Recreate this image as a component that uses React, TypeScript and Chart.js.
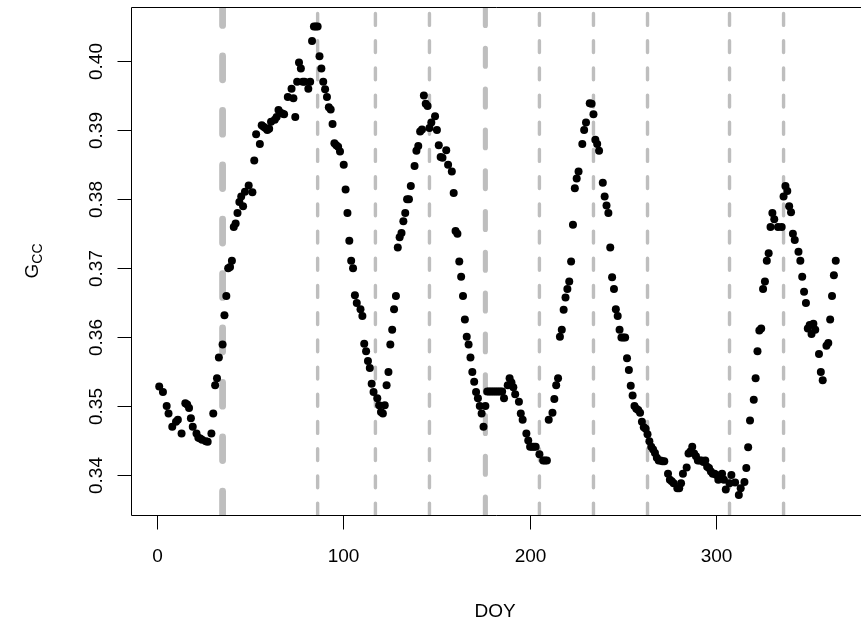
import { useEffect, useRef } from "react";
import { Chart, registerables } from "chart.js";

Chart.register(...registerables);

// Day of year of each observation
const doy = [
  1, 3, 5, 6, 8, 10, 11, 13, 15, 16, 17, 18, 19, 21, 22, 23, 24, 26, 27, 29,
  30, 31, 32, 33, 35, 36, 37, 38, 39, 40, 41, 42, 43, 44, 45, 46, 47, 49, 51, 52,
  53, 55, 56, 57, 58, 59, 60, 61, 63, 64, 65, 66, 67, 68, 70, 72, 73, 74, 75, 76,
  77, 78, 79, 81, 82, 83, 84, 85, 86, 87, 88, 89, 90, 91, 92, 93, 94, 95, 96, 97,
  98, 100, 101, 102, 103, 104, 105, 106, 107, 109, 110, 111, 112, 113, 114, 115, 116, 118, 119, 120,
  121, 122, 123, 124, 125, 126, 127, 128, 129, 130, 131, 132, 133, 134, 135, 136, 138, 139, 140, 141,
  142, 143, 144, 145, 146, 147, 149, 150, 151, 152, 153, 155, 156, 158, 159, 160, 161, 162, 163, 164,
  165, 166, 167, 168, 169, 170, 171, 172, 173, 174, 175, 176, 177, 178, 179, 180, 181, 182, 183, 184,
  185, 186, 188, 189, 190, 191, 192, 194, 195, 196, 198, 199, 200, 201, 202, 203, 205, 207, 208, 209,
  210, 212, 213, 214, 215, 216, 217, 218, 219, 220, 221, 222, 223, 224, 225, 226, 228, 229, 230, 232,
  233, 234, 235, 236, 237, 239, 240, 241, 242, 243, 244, 245, 246, 247, 248, 249, 250, 251, 252, 253,
  254, 255, 256, 257, 258, 259, 260, 261, 262, 263, 264, 265, 266, 267, 268, 269, 270, 271, 272, 274,
  275, 276, 277, 279, 280, 281, 282, 284, 285, 286, 287, 288, 289, 290, 291, 292, 293, 294, 295, 296,
  297, 298, 299, 300, 301, 303, 304, 305, 307, 308, 310, 312, 313, 315, 316, 317, 318, 320, 321, 322,
  323, 324, 325, 326, 327, 328, 329, 330, 331, 333, 335, 336, 337, 338, 339, 340, 341, 342, 344, 345,
  346, 347, 348, 349, 350, 351, 352, 353, 355, 356, 357, 359, 360, 361, 362, 363, 364,
];

// Green chromatic coordinate of each observation
const gcc = [
  0.3529, 0.3521, 0.3501, 0.349, 0.3471, 0.3478, 0.3481, 0.3461, 0.3505, 0.3503, 0.3498, 0.3483, 0.3471, 0.3461, 0.3455, 0.3454, 0.3452, 0.345, 0.3449, 0.3461,
  0.349, 0.3531, 0.3541, 0.3571, 0.359, 0.3632, 0.366, 0.37, 0.3702, 0.3711, 0.376, 0.3765, 0.378, 0.3796, 0.3804, 0.379, 0.3811, 0.382, 0.381, 0.3856,
  0.3894, 0.388, 0.3907, 0.3905, 0.3903, 0.39, 0.3902, 0.3912, 0.3915, 0.3919, 0.3929, 0.3925, 0.3924, 0.3923, 0.3948, 0.396, 0.3946, 0.3919, 0.397, 0.3998,
  0.3989, 0.397, 0.397, 0.396, 0.397, 0.4029, 0.405, 0.405, 0.405, 0.4007, 0.3989, 0.397, 0.3959, 0.3948, 0.3933, 0.393, 0.3909, 0.3881, 0.3878, 0.3876,
  0.3869, 0.385, 0.3814, 0.378, 0.374, 0.3711, 0.37, 0.3661, 0.365, 0.3641, 0.3631, 0.3591, 0.358, 0.3566, 0.3556, 0.3533, 0.3521, 0.3512, 0.3502, 0.3492,
  0.349, 0.3502, 0.3531, 0.355, 0.359, 0.3611, 0.3641, 0.366, 0.373, 0.3745, 0.3751, 0.3768, 0.378, 0.38, 0.38, 0.3819, 0.3848, 0.387, 0.3877, 0.3898,
  0.3901, 0.395, 0.3938, 0.3935, 0.3903, 0.3911, 0.392, 0.39, 0.3878, 0.3861, 0.386, 0.3871, 0.385, 0.384, 0.3809, 0.3754, 0.375, 0.371, 0.3688, 0.366,
  0.3626, 0.3601, 0.359, 0.3571, 0.355, 0.3536, 0.3521, 0.3512, 0.3501, 0.349, 0.3471, 0.3501, 0.3522, 0.3522, 0.3522, 0.3522, 0.3522, 0.3522, 0.3522, 0.3522,
  0.3522, 0.3512, 0.3531, 0.3541, 0.3535, 0.3528, 0.3518, 0.3507, 0.349, 0.3481, 0.3461, 0.3451, 0.3442, 0.3442, 0.3442, 0.3442, 0.3431, 0.3422, 0.3422, 0.3422,
  0.3481, 0.3491, 0.3511, 0.3531, 0.3541, 0.3601, 0.3611, 0.364, 0.3658, 0.367, 0.3681, 0.371, 0.3763, 0.3816, 0.383, 0.384, 0.388, 0.39, 0.3911, 0.3939,
  0.3938, 0.3923, 0.3886, 0.388, 0.387, 0.3824, 0.3804, 0.3791, 0.378, 0.373, 0.3687, 0.367, 0.3641, 0.3631, 0.3611, 0.36, 0.36, 0.36, 0.357, 0.3553,
  0.353, 0.3516, 0.3501, 0.3497, 0.3495, 0.3491, 0.3478, 0.347, 0.3468, 0.346, 0.345, 0.3442, 0.3438, 0.3433, 0.3426, 0.3422, 0.3422, 0.3421, 0.3421, 0.3403,
  0.3394, 0.3392, 0.3389, 0.3382, 0.3382, 0.3389, 0.3403, 0.3412, 0.3432, 0.3435, 0.3442, 0.3432, 0.3428, 0.3422, 0.3422, 0.3422, 0.342, 0.3422, 0.3413, 0.3411,
  0.3406, 0.3403, 0.3403, 0.3401, 0.3394, 0.3403, 0.3394, 0.338, 0.3389, 0.3401, 0.339, 0.3372, 0.3382, 0.3391, 0.3411, 0.3441, 0.348, 0.351, 0.3541, 0.358,
  0.361, 0.3613, 0.367, 0.3681, 0.3711, 0.3722, 0.376, 0.378, 0.3771, 0.376, 0.376, 0.3804, 0.3819, 0.3812, 0.379, 0.3781, 0.375, 0.3741, 0.3724, 0.3711,
  0.3688, 0.3666, 0.365, 0.3613, 0.3618, 0.3605, 0.362, 0.3611, 0.3576, 0.355, 0.3538, 0.3588, 0.3592, 0.3626, 0.366, 0.369, 0.3711,
];

// Days marked by vertical dashed lines
const eventDoy = [35, 86, 117, 146, 176, 205, 234, 263, 307, 336];

const xTickValues = [0, 100, 200, 300];
const xTickLabels = ["0", "100", "200", "300"];
const yTickValues = [0.34, 0.35, 0.36, 0.37, 0.38, 0.39, 0.4];
const yTickLabels = ["0.34", "0.35", "0.36", "0.37", "0.38", "0.39", "0.40"];

const X_MIN = -14.14;
const X_MAX = 375.4;
const Y_MIN = 0.334314;
const Y_MAX = 0.407813;

const FONT = "'Liberation Sans', Arial, Helvetica, sans-serif";

export default function App() {
  const ref = useRef<HTMLCanvasElement>(null);

  useEffect(() => {
    document.body.style.margin = "0";
    const canvas = ref.current;
    if (!canvas) return;

    const points = doy.map((d, i) => ({ x: d, y: gcc[i] }));

    const rPlot = {
      id: "rPlot",
      beforeDatasetsDraw(chart: any) {
        const { ctx, chartArea: a, scales } = chart;
        const xs = scales.x;
        ctx.save();
        ctx.beginPath();
        ctx.rect(a.left, a.top, a.right - a.left, a.bottom - a.top);
        ctx.clip();
        ctx.strokeStyle = "#bebebe";
        ctx.lineCap = "round";
        eventDoy.forEach((d) => {
          const L = d === 35 ? 6.8 : d === 176 ? 5.1 : 3.4;
          const px = xs.getPixelForValue(d);
          ctx.lineWidth = L;
          ctx.setLineDash([3.5 * L, 4.5 * L]);
          ctx.beginPath();
          ctx.moveTo(px, a.bottom);
          ctx.lineTo(px, a.top);
          ctx.stroke();
        });
        ctx.restore();
      },
      afterDraw(chart: any) {
        const { ctx, chartArea: a, scales } = chart;
        const xs = scales.x;
        const ys = scales.y;
        ctx.save();
        ctx.strokeStyle = "#000";
        ctx.lineWidth = 1;
        ctx.setLineDash([]);
        // box (right side lies outside the picture)
        ctx.beginPath();
        ctx.moveTo(a.right + 5, a.top + 0.5);
        ctx.lineTo(a.left + 0.5, a.top + 0.5);
        ctx.lineTo(a.left + 0.5, a.bottom + 0.5);
        ctx.lineTo(a.right + 5, a.bottom + 0.5);
        ctx.stroke();

        const tick = 14;
        ctx.fillStyle = "#000";
        ctx.font = `19px ${FONT}`;
        ctx.textAlign = "center";
        ctx.textBaseline = "middle";

        // x axis
        xTickValues.forEach((v, i) => {
          const px = Math.floor(xs.getPixelForValue(v)) + 0.5;
          ctx.beginPath();
          ctx.moveTo(px, a.bottom + 0.5);
          ctx.lineTo(px, a.bottom + 0.5 + tick);
          ctx.stroke();
          ctx.fillText(xTickLabels[i], px, 557);
        });

        // y axis
        yTickValues.forEach((v, i) => {
          const py = Math.floor(ys.getPixelForValue(v)) + 0.5;
          ctx.beginPath();
          ctx.moveTo(a.left + 0.5, py);
          ctx.lineTo(a.left + 0.5 - tick, py);
          ctx.stroke();
          ctx.save();
          ctx.translate(97, py);
          ctx.rotate(-Math.PI / 2);
          ctx.fillText(yTickLabels[i], 0, 0);
          ctx.restore();
        });

        // titles
        ctx.fillText("DOY", 495, 612);

        ctx.save();
        ctx.translate(31, (a.top + a.bottom) / 2);
        ctx.rotate(-Math.PI / 2);
        ctx.textAlign = "left";
        ctx.textBaseline = "alphabetic";
        ctx.font = `19px ${FONT}`;
        const wG = ctx.measureText("G").width;
        ctx.font = `14px ${FONT}`;
        const wC = ctx.measureText("CC").width;
        const start = -(wG + wC) / 2;
        ctx.font = `19px ${FONT}`;
        ctx.fillText("G", start, 6.8);
        ctx.font = `14px ${FONT}`;
        ctx.fillText("CC", start + wG, 10.8);
        ctx.restore();

        ctx.restore();
      },
    };

    const chart = new Chart(canvas, {
      type: "scatter",
      data: {
        datasets: [
          {
            data: points,
            pointRadius: 4,
            pointHoverRadius: 4,
            pointBackgroundColor: "#000",
            pointBorderWidth: 0,
            pointBorderColor: "#000",
            showLine: false,
          },
        ],
      },
      options: {
        responsive: false,
        animation: false,
        events: [],
        layout: { padding: { left: 131, top: 7, right: 0, bottom: 122 } },
        scales: {
          x: { type: "linear", min: X_MIN, max: X_MAX, display: false },
          y: { type: "linear", min: Y_MIN, max: Y_MAX, display: false },
        },
        plugins: {
          legend: { display: false },
          tooltip: { enabled: false },
        },
      },
      plugins: [rPlot],
    });

    return () => chart.destroy();
  }, []);

  return (
    <div style={{ width: 861, height: 637, overflow: "hidden" }}>
      <canvas ref={ref} width={861} height={637} style={{ display: "block" }} />
    </div>
  );
}
